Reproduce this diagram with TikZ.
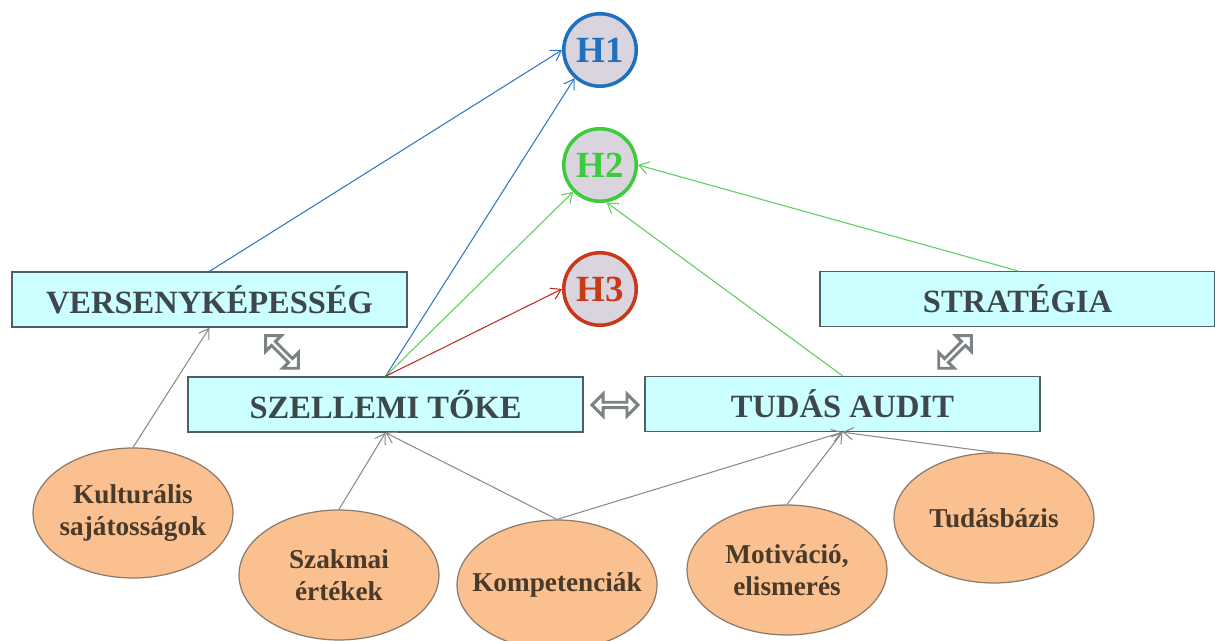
\documentclass[tikz,border=0pt]{standalone}
\usepackage{fontspec}
\setmainfont{Liberation Serif}
\usetikzlibrary{arrows.meta,shapes.geometric,shapes.arrows}
\definecolor{boxfill}{HTML}{CCFFFF}
\definecolor{boxdraw}{HTML}{4F5F66}
\definecolor{boxtext}{HTML}{3E474C}
\definecolor{ellfill}{HTML}{FAC08F}
\definecolor{elldraw}{HTML}{8C7A6A}
\definecolor{elltext}{HTML}{4A3A2A}
\definecolor{hfill}{HTML}{D9D4DE}
\definecolor{hblue}{HTML}{1F70BF}
\definecolor{hgreen}{HTML}{3DCB3D}
\definecolor{hred}{HTML}{C8391A}
\definecolor{lblue}{HTML}{2E78C4}
\definecolor{lgreen}{HTML}{5CCF5C}
\definecolor{lred}{HTML}{C02A22}
\definecolor{lgray}{HTML}{8A8A8A}
\definecolor{dagray}{HTML}{7A8284}
\tikzset{
  boxnode/.style={draw=boxdraw, line width=0.8pt, fill=boxfill, minimum width=7.9cm, minimum height=1.1cm, inner sep=0pt, text=boxtext, font=\bfseries\fontsize{18.5}{20}\selectfont},
  ellnode/.style={ellipse, draw=elldraw, line width=0.7pt, fill=ellfill, minimum width=4cm, minimum height=2.6cm, inner xsep=-1.2cm, inner ysep=-0.6cm, text=elltext, align=center, font=\bfseries\fontsize{15.5}{18.5}\selectfont},
  hnode/.style={circle, fill=hfill, line width=2pt, minimum size=1.45cm, inner sep=0pt, font=\bfseries\fontsize{21}{24}\selectfont},
  conn/.style={line width=0.6pt, -{Straight Barb[length=5.5pt,width=7pt]}},
  dbl/.style={double arrow, draw=dagray, fill=white, line width=1.7pt, minimum width=0.44cm, minimum height=0.92cm, double arrow head extend=0.09cm, inner sep=0pt}
}
\begin{document}
\begin{tikzpicture}[x=0.02cm,y=-0.02cm]
\useasboundingbox (0,0) rectangle (1215,641);
\fill[white] (0,0) rectangle (1215,641);
% circles
\node[hnode, draw=hblue, text=hblue] (h1) at (600,50) {H1};
\node[hnode, draw=hgreen, text=hgreen] (h2) at (600,165) {H2};
\node[hnode, draw=hred, text=hred] (h3) at (600,289) {H3};
% boxes
\node[boxnode] (vk) at (209.5,299.5) {VERSENYKÉPESSÉG};
\node[boxnode] (sz) at (385.5,404.5) {SZELLEMI TŐKE};
\node[boxnode] (ta) at (842.5,404) {TUDÁS AUDIT};
\node[boxnode] (st) at (1017.5,299) {STRATÉGIA};
% ellipses
\node[ellnode] (ku) at (133,513) {Kulturális\\sajátosságok};
\node[ellnode] (sk) at (339,575) {Szakmai\\értékek};
\node[ellnode] (ko) at (557,585) {Kompetenciák};
\node[ellnode] (mo) at (787,570) {Motiváció,\\elismerés};
\node[ellnode] (tu) at (994,518) {Tudásbázis};
% double arrows
\node[dbl, rotate=-45] (d1) at (282,352) {};
\node[dbl] (d2) at (615,405) {};
\node[dbl, rotate=45] (d3) at (955,352) {};
% connectors
\draw[conn, lblue] (vk.north) -- (h1.180);
\draw[conn, lblue] (sz.north) -- (h1.228);
\draw[conn, lgreen] (sz.north) -- (h2.225);
\draw[conn, lred] (sz.north) -- (h3.180);
\draw[conn, lgreen] (ta.north) -- (h2.-80);
\draw[conn, lgreen] (st.north) -- (h2.0);
\draw[conn, lgray] (ku.north) -- (vk.south);
\draw[conn, lgray] (sk.north) -- (sz.south);
\draw[conn, lgray] (ko.north) -- (sz.south);
\draw[conn, lgray] (ko.north) -- (ta.south);
\draw[conn, lgray] (mo.north) -- (ta.south);
\draw[conn, lgray] (tu.north) -- (ta.south);
\end{tikzpicture}
\end{document}
